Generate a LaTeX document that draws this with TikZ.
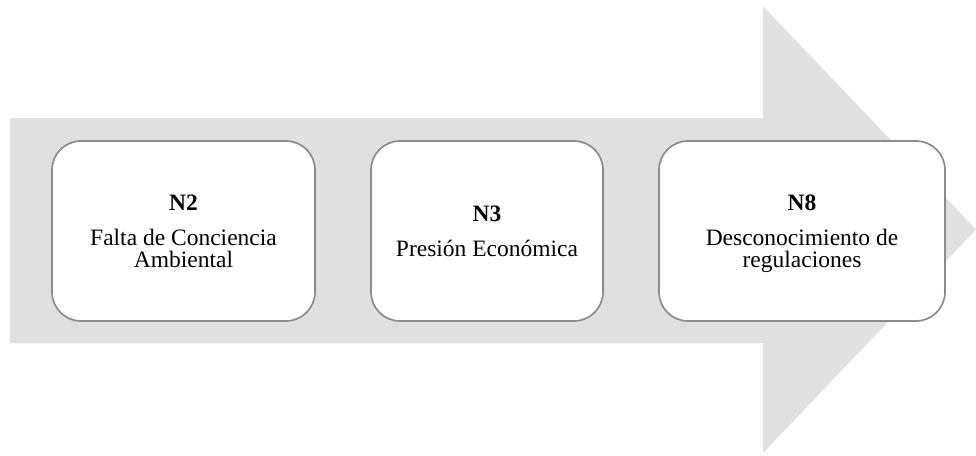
\documentclass[tikz,border=0pt]{standalone}
\usepackage{fontspec}
\setmainfont{Liberation Serif}
\definecolor{arrowgray}{RGB}{224,224,224}
\definecolor{boxgray}{RGB}{140,140,140}
\tikzset{
  arrowbg/.style={fill=arrowgray, draw=none},
  stagebox/.style={draw=boxgray, line width=1.7pt, fill=white, rounded corners=29pt,
    align=center, inner sep=0pt, font=\fontsize{23.5}{22}\selectfont},
}
\begin{document}
\begin{tikzpicture}[x=1pt,y=-1pt]
\useasboundingbox (0,0) rectangle (976,455);
\fill[arrowbg] (10,118) -- (763,118) -- (763,6) -- (976,229.5) -- (763,453) -- (763,343) -- (10,343) -- cycle;
\node[stagebox, minimum width=263pt, minimum height=180pt] (n2) at (183.5,231)
  {\textbf{N2}\\[13pt]Falta de Conciencia\\Ambiental};
\node[stagebox, minimum width=232pt, minimum height=180pt] (n3) at (487,231)
  {\textbf{N3}\\[13pt]Presión Económica};
\node[stagebox, minimum width=286pt, minimum height=180pt] (n8) at (802,231)
  {\textbf{N8}\\[13pt]Desconocimiento de\\\raisebox{0pt}[\height][0pt]{regulaciones}};
\end{tikzpicture}
\end{document}
